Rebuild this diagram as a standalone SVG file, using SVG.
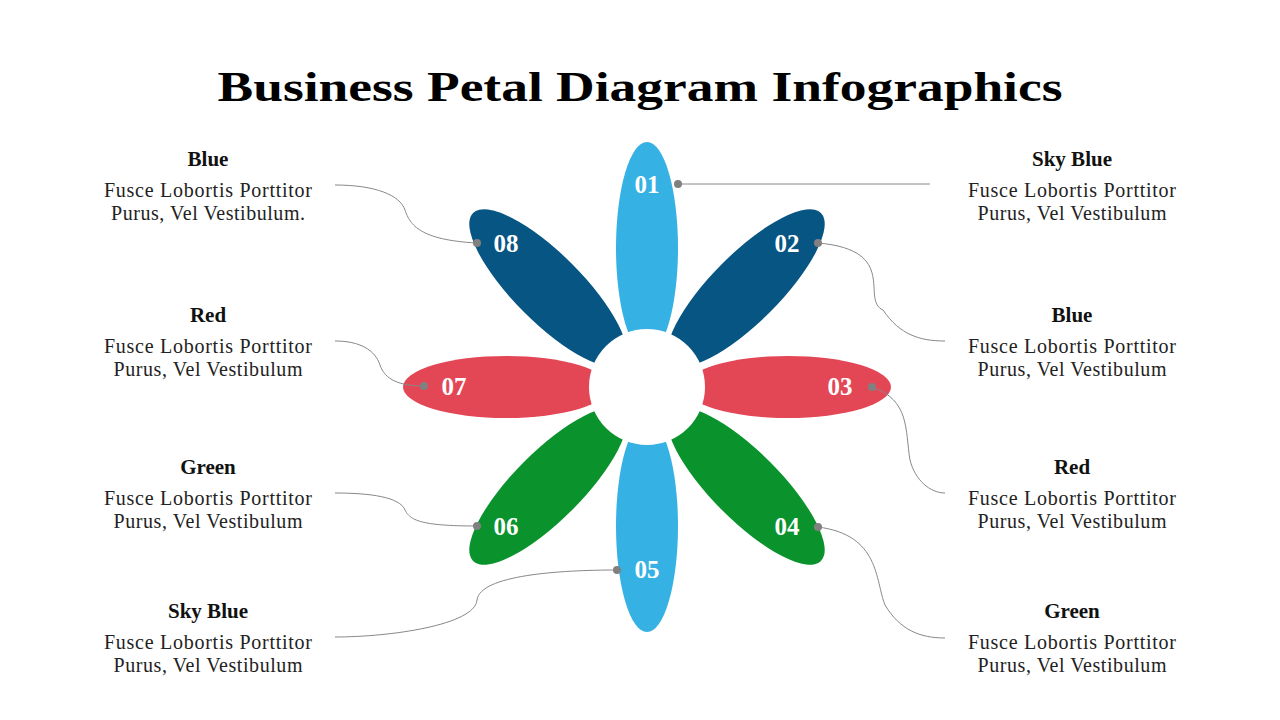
<svg xmlns="http://www.w3.org/2000/svg" width="1280" height="720" viewBox="0 0 1280 720">
<style>
text{font-family:"Liberation Serif","DejaVu Serif",serif;text-anchor:middle}
.t{font-size:42px;font-weight:bold;fill:#000}
.h{font-size:21px;font-weight:bold;fill:#111}
.b{font-size:20px;fill:#222}
.n{font-size:25px;font-weight:bold;fill:#fff}
.c{fill:none;stroke:#888;stroke-width:1}
.d{fill:#808080}
</style>
<rect width="1280" height="720" fill="#fff"/>
<text class="t" x="640" y="101" textLength="845" lengthAdjust="spacingAndGlyphs">Business Petal Diagram Infographics</text>
<g id="petals">
<g id="p02"><ellipse cx="0" cy="-140" rx="34" ry="106" fill="#075583" transform="translate(647,387) rotate(45)"/></g>
<g id="p08"><ellipse cx="0" cy="-140" rx="34" ry="106" fill="#075583" transform="translate(647,387) rotate(-45)"/></g>
<g id="p04"><ellipse cx="0" cy="-140" rx="34" ry="106" fill="#0a922d" transform="translate(647,387) rotate(135)"/></g>
<g id="p06"><ellipse cx="0" cy="-140" rx="34" ry="106" fill="#0a922d" transform="translate(647,387) rotate(-135)"/></g>
<g id="p01"><ellipse cx="647" cy="248" rx="31" ry="106" fill="#35b1e4"/></g>
<g id="p05"><ellipse cx="647" cy="526" rx="31" ry="106" fill="#35b1e4"/></g>
<g id="p03"><ellipse cx="788" cy="387" rx="103" ry="31" fill="#e34756"/></g>
<g id="p07"><ellipse cx="506" cy="387" rx="103" ry="31" fill="#e34756"/></g>
<circle cx="647" cy="387" r="58" fill="#fff"/>
<text class="n" x="647" y="193">01</text>
<text class="n" x="787" y="252">02</text>
<text class="n" x="840" y="395">03</text>
<text class="n" x="787" y="535">04</text>
<text class="n" x="647" y="578">05</text>
<text class="n" x="506" y="535">06</text>
<text class="n" x="454" y="395">07</text>
<text class="n" x="506" y="252">08</text>
</g>
<g id="connectors">
<path class="c" d="M678,184 H930"/>
<path class="c" d="M818,243 C900,250 860,300 883,310 C900,335 920,341 945,341"/>
<path class="c" d="M872,387 C910,400 905,430 910,460 C915,480 930,493 945,493"/>
<path class="c" d="M818,527 C880,535 875,580 885,605 C900,630 920,638 945,638"/>
<path class="c" d="M617,570 C560,570 480,575 477,600 C475,625 390,637 335,637"/>
<path class="c" d="M477,526 C420,526 410,520 405,510 C400,497 370,493 335,493"/>
<path class="c" d="M424,386 C400,386 385,380 380,365 C375,350 360,341 335,341"/>
<path class="c" d="M477,243 C420,240 410,225 405,210 C400,195 375,185 335,185"/>
<circle class="d" cx="678" cy="184" r="4"/><circle class="d" cx="818" cy="243" r="4"/>
<circle class="d" cx="872" cy="387" r="4"/><circle class="d" cx="818" cy="527" r="4"/>
<circle class="d" cx="617" cy="570" r="4"/><circle class="d" cx="477" cy="526" r="4"/>
<circle class="d" cx="424" cy="386" r="4"/><circle class="d" cx="477" cy="243" r="4"/>
</g>
<g id="labels-left">
<text class="h" x="208" y="166">Blue</text><text class="b" x="208" y="197" textLength="208">Fusce Lobortis Porttitor</text><text class="b" x="208" y="220" textLength="194">Purus, Vel Vestibulum.</text>
<text class="h" x="208" y="322">Red</text><text class="b" x="208" y="353" textLength="208">Fusce Lobortis Porttitor</text><text class="b" x="208" y="376" textLength="189">Purus, Vel Vestibulum</text>
<text class="h" x="208" y="474">Green</text><text class="b" x="208" y="505" textLength="208">Fusce Lobortis Porttitor</text><text class="b" x="208" y="528" textLength="189">Purus, Vel Vestibulum</text>
<text class="h" x="208" y="618">Sky Blue</text><text class="b" x="208" y="649" textLength="208">Fusce Lobortis Porttitor</text><text class="b" x="208" y="672" textLength="189">Purus, Vel Vestibulum</text>
</g>
<g id="labels-right">
<text class="h" x="1072" y="166">Sky Blue</text><text class="b" x="1072" y="197" textLength="208">Fusce Lobortis Porttitor</text><text class="b" x="1072" y="220" textLength="189">Purus, Vel Vestibulum</text>
<text class="h" x="1072" y="322">Blue</text><text class="b" x="1072" y="353" textLength="208">Fusce Lobortis Porttitor</text><text class="b" x="1072" y="376" textLength="189">Purus, Vel Vestibulum</text>
<text class="h" x="1072" y="474">Red</text><text class="b" x="1072" y="505" textLength="208">Fusce Lobortis Porttitor</text><text class="b" x="1072" y="528" textLength="189">Purus, Vel Vestibulum</text>
<text class="h" x="1072" y="618">Green</text><text class="b" x="1072" y="649" textLength="208">Fusce Lobortis Porttitor</text><text class="b" x="1072" y="672" textLength="189">Purus, Vel Vestibulum</text>
</g>
</svg>
